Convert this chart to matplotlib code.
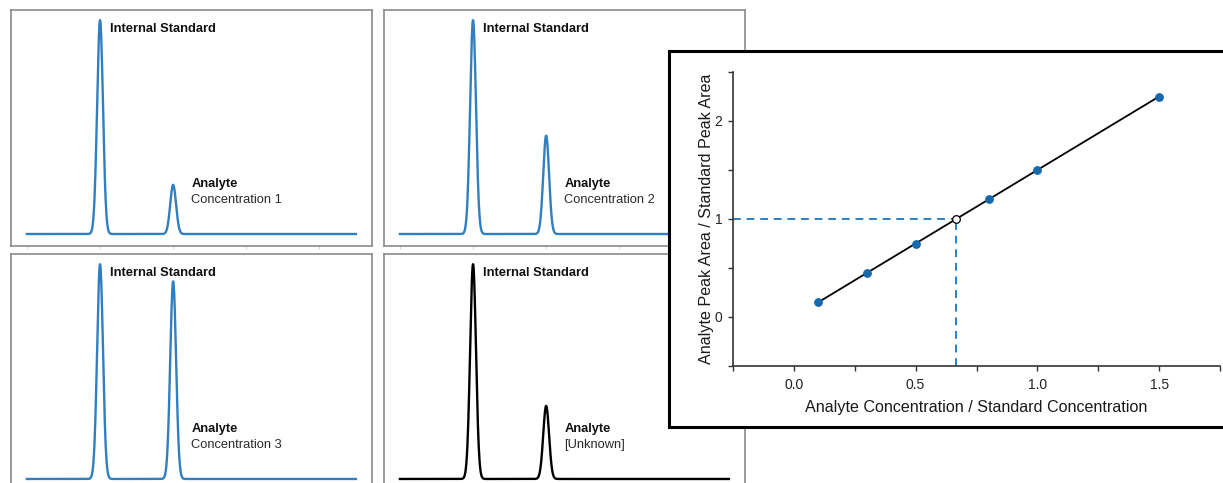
import numpy as np
import matplotlib
matplotlib.use('Agg')
import matplotlib.pyplot as plt
from matplotlib.ticker import MultipleLocator

plt.rcParams['font.family'] = ['Liberation Sans', 'DejaVu Sans']

# ── chromatogram peaks (retention position, relative height) ──
is_pos, an_pos = 1.0, 2.0
is_height = 1.0
analyte_heights = [0.23, 0.46, 0.92, 0.34]
panel_names = ['Concentration 1', 'Concentration 2', 'Concentration 3', '[Unknown]']
peak_sigma = 0.04

# ── calibration data ──
x_cal = [0.1, 0.3, 0.5, 0.8, 1.0, 1.5]
y_cal = [0.15, 0.45, 0.75, 1.2, 1.5, 2.25]
x_unknown, y_unknown = 0.667, 1.0

BLUE_TRACE = '#2f7fc1'
BLUE_DOT = '#1768ad'
BLUE_DASH = '#2a80c4'
BORDER = '#8a8a8a'

W, H = 1223, 483
fig = plt.figure(figsize=(W / 100, H / 100), dpi=100)
fig.patch.set_facecolor('white')


def px_axes(x0, y0, x1, y1, **kw):
    """Axes from pixel box (top-left origin)."""
    return fig.add_axes([x0 / W, 1 - y1 / H, (x1 - x0) / W, (y1 - y0) / H], **kw)


# chromatogram panel boxes (left, top, right, bottom) in px
boxes = [(11, 10, 372, 246), (384, 10, 745, 246),
         (11, 254, 372, 491), (384, 254, 745, 491)]

t = np.linspace(0, 4.5, 1200)
for i, (box, h_an, name) in enumerate(zip(boxes, analyte_heights, panel_names)):
    ax = px_axes(*box, zorder=0)
    trace = (is_height * np.exp(-0.5 * ((t - is_pos) / peak_sigma) ** 2)
             + h_an * np.exp(-0.5 * ((t - an_pos) / peak_sigma) ** 2))
    color = 'black' if i == 3 else BLUE_TRACE
    ax.plot(t, trace, color=color, lw=1.7, solid_joinstyle='round')
    ax.set_xlim(-0.218, 4.72)
    ax.set_ylim(-0.056, 1.047)
    ax.set_xticks([0, 1, 2, 3, 4])
    ax.set_yticks([])
    ax.tick_params(axis='x', length=2.5, width=0.6, color='#c8c8c8',
                   labelbottom=False, direction='out')
    for sp in ax.spines.values():
        sp.set_color(BORDER)
        sp.set_linewidth(1.2)
    ax.text(1.13, 0.96, 'Internal Standard', fontsize=9.3, fontweight='bold',
            color='#111111', ha='left', va='center')
    ax.text(2.25, 0.232, 'Analyte', fontsize=9.3, fontweight='bold',
            color='#111111', ha='left', va='center')
    ax.text(2.25, 0.158, name, fontsize=9.3, color='#2a2a2a',
            ha='left', va='center')

# ── calibration inset ──
frame = px_axes(669, 51, 1232, 427, zorder=2)
frame.set_xticks([])
frame.set_yticks([])
frame.set_facecolor('white')
for sp in frame.spines.values():
    sp.set_linewidth(2.2)
    sp.set_color('black')

cal = px_axes(733, 72, 1220, 366, zorder=3)
cal.patch.set_alpha(0)
cal.set_xlim(-0.25, 1.75)
cal.set_ylim(-0.5, 2.5)

cal.plot([-0.25, x_unknown], [y_unknown, y_unknown], color=BLUE_DASH,
         lw=1.4, dashes=(4, 3), zorder=1)
cal.plot([x_unknown, x_unknown], [-0.5, y_unknown], color=BLUE_DASH,
         lw=1.4, dashes=(4, 3), zorder=1)
cal.plot(x_cal, y_cal, color='black', lw=1.3, zorder=2)
cal.plot(x_cal, y_cal, 'o', color=BLUE_DOT, ms=5.3, zorder=3)
cal.plot([x_unknown], [y_unknown], 'o', mfc='white', mec='black',
         mew=0.9, ms=5.5, zorder=4)

cal.spines['top'].set_visible(False)
cal.spines['right'].set_visible(False)
for sp in ('left', 'bottom'):
    cal.spines[sp].set_color('#333333')
    cal.spines[sp].set_linewidth(1.2)

cal.set_xticks([0.0, 0.5, 1.0, 1.5])
cal.set_xticklabels(['0.0', '0.5', '1.0', '1.5'])
cal.xaxis.set_minor_locator(MultipleLocator(0.25))
cal.set_yticks([0, 1, 2])
cal.yaxis.set_minor_locator(MultipleLocator(0.5))
cal.tick_params(which='both', length=3.5, width=1.0, color='#333333',
                direction='out', labelsize=10, labelcolor='#222222')
cal.tick_params(axis='x', pad=5)
cal.tick_params(axis='y', pad=4)

cal.set_xlabel('Analyte Concentration / Standard Concentration',
               fontsize=11.6, color='#1a1a1a', labelpad=6)
cal.set_ylabel('Analyte Peak Area / Standard Peak Area',
               fontsize=11.6, color='#1a1a1a', labelpad=0.5)

fig.savefig('out.png', dpi=100, facecolor='white')
